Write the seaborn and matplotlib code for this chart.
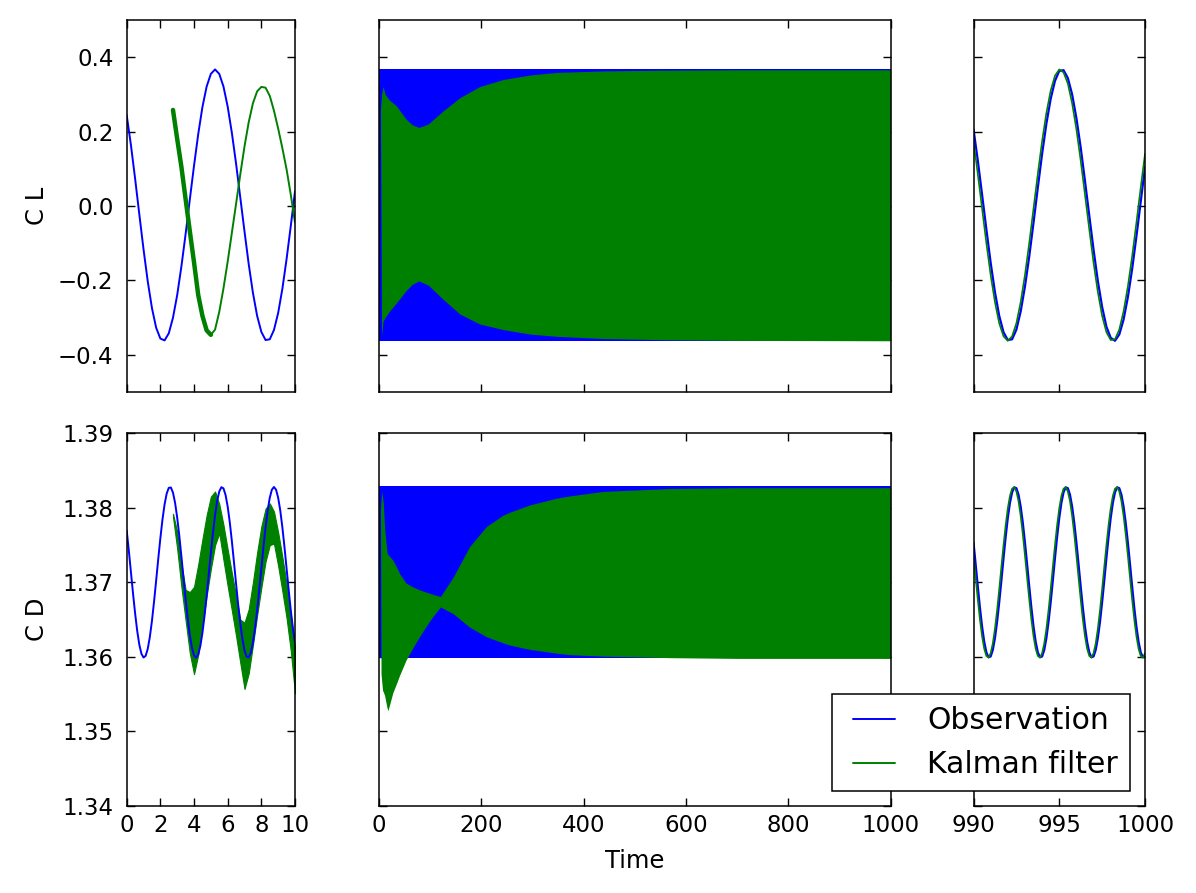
import numpy as np
import matplotlib
matplotlib.use("Agg")
import matplotlib.pyplot as plt
import seaborn as sns

# ---------------------------------------------------------------------------
# Data
# ---------------------------------------------------------------------------
# first 10 time units
t_start = np.linspace(0, 10, 41)
cl_obs_start = [0.244, 0.164, 0.073, -0.023, -0.117, -0.203, -0.275, -0.328, -0.357,
                -0.362, -0.343, -0.301, -0.240, -0.163, -0.076, 0.017, 0.108, 0.193,
                0.266, 0.321, 0.355, 0.367, 0.355, 0.321, 0.267, 0.196, 0.113, 0.022,
                -0.069, -0.157, -0.234, -0.296, -0.339, -0.361, -0.359, -0.334, -0.288,
                -0.223, -0.143, -0.054, 0.039]

t_start_fine = np.linspace(0, 10, 81)
cd_obs_start = [1.37697, 1.37429, 1.37141, 1.36853, 1.36583, 1.36348, 1.36164, 1.36043,
                1.35992, 1.36014, 1.36108, 1.36268, 1.36483, 1.36742, 1.37025, 1.37315,
                1.37593, 1.37842, 1.38046, 1.38191, 1.38268, 1.38273, 1.38204, 1.38067,
                1.37869, 1.37625, 1.37349, 1.37059, 1.36774, 1.36513, 1.36291, 1.36124,
                1.36021, 1.35990, 1.36033, 1.36146, 1.36323, 1.36553, 1.36819, 1.37106,
                1.37395, 1.37667, 1.37904, 1.38093, 1.38220, 1.38277, 1.38261, 1.38172,
                1.38017, 1.37805, 1.37550, 1.37269, 1.36978, 1.36698, 1.36446, 1.36238,
                1.36087, 1.36005, 1.35995, 1.36058, 1.36190, 1.36383, 1.36624, 1.36898,
                1.37187, 1.37473, 1.37738, 1.37963, 1.38135, 1.38243, 1.38280, 1.38243,
                1.38135, 1.37963, 1.37738, 1.37473, 1.37187, 1.36898, 1.36624, 1.36383,
                1.36190]

t_kf_start = np.linspace(2.75, 10, 30)
cl_kf_start = [0.258, 0.180, 0.105, 0.018, -0.068, -0.152, -0.240, -0.296, -0.335, -0.347,
               -0.333, -0.285, -0.222, -0.150, -0.072, 0.006, 0.085, 0.160, 0.225, 0.276,
               0.308, 0.320, 0.318, 0.296, 0.256, 0.208, 0.155, 0.098, 0.030, -0.045]
# the filter output jitters fast here, so it is kept as a band
cd_kf_start_hi = [1.3792, 1.3768, 1.3725, 1.3690, 1.3687, 1.3694, 1.3724, 1.3758, 1.3790,
                  1.3815, 1.3822, 1.3805, 1.3777, 1.3744, 1.3712, 1.3682, 1.3650, 1.3646,
                  1.3664, 1.3700, 1.3740, 1.3775, 1.3799, 1.3806, 1.3795, 1.3767, 1.3734,
                  1.3698, 1.3657, 1.3613]
cd_kf_start_lo = [1.3788, 1.3745, 1.3694, 1.3649, 1.3605, 1.3577, 1.3603, 1.3642, 1.3682,
                  1.3718, 1.3750, 1.3766, 1.3730, 1.3695, 1.3662, 1.3628, 1.3592, 1.3557,
                  1.3578, 1.3616, 1.3656, 1.3693, 1.3728, 1.3750, 1.3752, 1.3722, 1.3688,
                  1.3652, 1.3608, 1.3551]

# last 10 time units
t_end = np.linspace(990, 1000, 41)
cl_obs_end = [0.206, 0.122, 0.030, -0.063, -0.153, -0.232, -0.296, -0.340, -0.361, -0.359,
              -0.333, -0.284, -0.217, -0.136, -0.045, 0.049, 0.140, 0.221, 0.288, 0.336,
              0.363, 0.365, 0.344, 0.300, 0.236, 0.157, 0.067, -0.026, -0.118, -0.202,
              -0.272, -0.325, -0.355, -0.363, -0.346, -0.306, -0.246, -0.170, -0.082,
              0.011, 0.104]
cl_kf_end = [0.174, 0.086, -0.007, -0.100, -0.186, -0.259, -0.316, -0.351, -0.363, -0.351,
             -0.316, -0.259, -0.186, -0.100, -0.007, 0.086, 0.174, 0.250, 0.310, 0.350,
             0.367, 0.359, 0.329, 0.276, 0.206, 0.122, 0.030, -0.063, -0.153, -0.232,
             -0.296, -0.340, -0.361, -0.359, -0.333, -0.284, -0.217, -0.136, -0.045,
             0.049, 0.140]

t_end_fine = np.linspace(990, 1000, 81)
cd_obs_end = [1.37534, 1.37243, 1.36944, 1.36658, 1.36405, 1.36202, 1.36062, 1.35995,
              1.36006, 1.36094, 1.36253, 1.36472, 1.36736, 1.37027, 1.37326, 1.37612,
              1.37865, 1.38068, 1.38208, 1.38275, 1.38264, 1.38176, 1.38017, 1.37798,
              1.37534, 1.37243, 1.36944, 1.36658, 1.36405, 1.36202, 1.36062, 1.35995,
              1.36006, 1.36094, 1.36253, 1.36472, 1.36736, 1.37027, 1.37326, 1.37612,
              1.37865, 1.38068, 1.38208, 1.38275, 1.38264, 1.38176, 1.38017, 1.37798,
              1.37534, 1.37243, 1.36944, 1.36658, 1.36405, 1.36202, 1.36062, 1.35995,
              1.36006, 1.36094, 1.36253, 1.36472, 1.36736, 1.37027, 1.37326, 1.37612,
              1.37865, 1.38068, 1.38208, 1.38275, 1.38264, 1.38176, 1.38017, 1.37798,
              1.37534, 1.37243, 1.36944, 1.36658, 1.36405, 1.36202, 1.36062, 1.35995,
              1.36006]
cd_kf_end = [1.37361, 1.37063, 1.36770, 1.36501, 1.36276, 1.36109, 1.36013, 1.35992,
             1.36050, 1.36181, 1.36378, 1.36626, 1.36909, 1.37207, 1.37500, 1.37769,
             1.37994, 1.38161, 1.38257, 1.38278, 1.38220, 1.38089, 1.37892, 1.37644,
             1.37361, 1.37063, 1.36770, 1.36501, 1.36276, 1.36109, 1.36013, 1.35992,
             1.36050, 1.36181, 1.36378, 1.36626, 1.36909, 1.37207, 1.37500, 1.37769,
             1.37994, 1.38161, 1.38257, 1.38278, 1.38220, 1.38089, 1.37892, 1.37644,
             1.37361, 1.37063, 1.36770, 1.36501, 1.36276, 1.36109, 1.36013, 1.35992,
             1.36050, 1.36181, 1.36378, 1.36626, 1.36909, 1.37207, 1.37500, 1.37769,
             1.37994, 1.38161, 1.38257, 1.38278, 1.38220, 1.38089, 1.37892, 1.37644,
             1.37361, 1.37063, 1.36770, 1.36501, 1.36276, 1.36109, 1.36013, 1.35992,
             1.36050]

# whole run: the oscillation is far too dense to resolve, so keep the envelopes
t_run = [0, 1000]
cl_obs_run_hi = [0.367, 0.367]
cl_obs_run_lo = [-0.363, -0.363]
cd_obs_run_hi = [1.3829, 1.3829]
cd_obs_run_lo = [1.3598, 1.3598]

t_cl_env = [2.8, 5, 8, 12, 20, 34, 53, 65, 78, 96, 125, 158, 197, 243, 295, 347, 438,
            550, 700, 1000]
cl_kf_hi = [0.26, 0.30, 0.321, 0.300, 0.285, 0.269, 0.233, 0.218, 0.211, 0.220, 0.255,
            0.291, 0.321, 0.340, 0.352, 0.359, 0.363, 0.365, 0.366, 0.366]
cl_kf_lo = [0.26, -0.350, -0.310, -0.300, -0.284, -0.261, -0.228, -0.211, -0.202, -0.213,
            -0.251, -0.291, -0.318, -0.333, -0.345, -0.351, -0.357, -0.360, -0.362, -0.363]

t_cd_env = [2.8, 4, 5.2, 7, 8.5, 11, 15.6, 17.6, 27, 34, 40, 53, 66, 79, 92, 105, 120,
            145, 177, 210, 242, 255, 295, 307, 347, 373, 438, 568, 700, 1000]
cd_kf_hi = [1.3795, 1.3810, 1.3822, 1.3814, 1.3806, 1.3772, 1.3740, 1.3737, 1.3730,
            1.3721, 1.3712, 1.3699, 1.3694, 1.3690, 1.3687, 1.3684, 1.3681, 1.3707,
            1.3748, 1.3775, 1.3790, 1.3794, 1.3804, 1.3806, 1.3813, 1.3816, 1.3822,
            1.3826, 1.3827, 1.3827]
cd_kf_lo = [1.3795, 1.3577, 1.3568, 1.3555, 1.3553, 1.3548, 1.3532, 1.3528, 1.3552,
            1.3564, 1.3575, 1.3596, 1.3612, 1.3627, 1.3641, 1.3654, 1.3667, 1.3658,
            1.3640, 1.3627, 1.3619, 1.3616, 1.3610, 1.3609, 1.3605, 1.3603, 1.3601,
            1.3599, 1.3598, 1.3598]

OBS_COLOR = '#0000ff'
KF_COLOR = '#008000'

# ---------------------------------------------------------------------------
# Figure
# ---------------------------------------------------------------------------
sns.set_theme(style='ticks')
plt.rcParams['font.family'] = ['DejaVu Sans']
plt.rcParams.update({
    'axes.linewidth': 1.1,
    'text.color': 'black',
    'axes.labelcolor': 'black',
    'xtick.color': 'black',
    'ytick.color': 'black',
    'axes.edgecolor': 'black',
})

W, H = 1196, 893
fig = plt.figure(figsize=(W / 100, H / 100), dpi=100, facecolor='white')


def _axes(x0, x1, y0, y1):
    """Axes from pixel edges (left, right, top, bottom)."""
    return fig.add_axes([x0 / W, 1 - y1 / H, (x1 - x0) / W, (y1 - y0) / H])


cols = [(126.7, 295.0), (379.0, 890.7), (973.5, 1145.0)]
rows = [(20.0, 391.7), (433.3, 806.0)]
axes = [[_axes(c[0], c[1], r[0], r[1]) for c in cols] for r in rows]

for row in axes:
    for ax in row:
        ax.set_facecolor('white')
        ax.tick_params(which='major', direction='in', top=True, right=True,
                       length=6, width=1.0, labelsize=16.5, color='black')
        ax.tick_params(axis='y', pad=9.5)
        ax.tick_params(axis='x', pad=5.5)

(ax_cl0, ax_clm, ax_cl1), (ax_cd0, ax_cdm, ax_cd1) = axes

# --- left: start of run
sns.lineplot(x=t_start, y=cl_obs_start, ax=ax_cl0, color=OBS_COLOR, linewidth=1.4,
             estimator=None, sort=False)
sns.lineplot(x=t_kf_start, y=cl_kf_start, ax=ax_cl0, color=KF_COLOR, linewidth=1.4,
             estimator=None, sort=False)
sns.lineplot(x=t_kf_start[:10], y=cl_kf_start[:10], ax=ax_cl0, color=KF_COLOR,
             linewidth=3.2, estimator=None, sort=False)

sns.lineplot(x=t_start_fine, y=cd_obs_start, ax=ax_cd0, color=OBS_COLOR, linewidth=1.4,
             estimator=None, sort=False)
ax_cd0.fill_between(t_kf_start, cd_kf_start_lo, cd_kf_start_hi, color=KF_COLOR,
                    linewidth=0.8, edgecolor=KF_COLOR)

# --- middle: whole run
ax_clm.fill_between(t_run, cl_obs_run_lo, cl_obs_run_hi, color=OBS_COLOR, linewidth=0)
ax_clm.fill_between(t_cl_env, cl_kf_lo, cl_kf_hi, color=KF_COLOR, linewidth=0)
ax_cdm.fill_between(t_run, cd_obs_run_lo, cd_obs_run_hi, color=OBS_COLOR, linewidth=0)
ax_cdm.fill_between(t_cd_env, cd_kf_lo, cd_kf_hi, color=KF_COLOR, linewidth=0)

# --- right: end of run
sns.lineplot(x=t_end, y=cl_obs_end, ax=ax_cl1, color=OBS_COLOR, linewidth=1.6,
             estimator=None, sort=False)
sns.lineplot(x=t_end, y=cl_kf_end, ax=ax_cl1, color=KF_COLOR, linewidth=1.2,
             estimator=None, sort=False)
sns.lineplot(x=t_end_fine, y=cd_obs_end, ax=ax_cd1, color=OBS_COLOR, linewidth=1.6,
             estimator=None, sort=False, label='Observation')
sns.lineplot(x=t_end_fine, y=cd_kf_end, ax=ax_cd1, color=KF_COLOR, linewidth=1.2,
             estimator=None, sort=False, label='Kalman filter')

# --- limits, ticks
for ax in axes[0]:
    ax.set_ylim(-0.5, 0.5)
    ax.set_yticks([-0.4, -0.2, 0.0, 0.2, 0.4])
for ax in axes[1]:
    ax.set_ylim(1.34, 1.39)
    ax.set_yticks([1.34, 1.35, 1.36, 1.37, 1.38, 1.39])

for r in range(2):
    axes[r][0].set_xlim(0, 10)
    axes[r][0].set_xticks([0, 2, 4, 6, 8, 10])
    axes[r][1].set_xlim(0, 1000)
    axes[r][1].set_xticks([0, 200, 400, 600, 800, 1000])
    axes[r][2].set_xlim(990, 1000)
    axes[r][2].set_xticks([990, 995, 1000])
    axes[r][1].tick_params(labelleft=False)
    axes[r][2].tick_params(labelleft=False)
for ax in axes[0]:
    ax.tick_params(labelbottom=False)

ax_cl0.set_ylabel('C L', fontsize=17.5)
ax_cl0.yaxis.set_label_coords(-0.46, 0.5)
ax_cd0.set_ylabel('C D', fontsize=17.5)
ax_cd0.yaxis.set_label_coords(-0.46, 0.5)
ax_cdm.set_xlabel('Time', fontsize=17.5, labelpad=9)

leg = ax_cd1.legend(loc='lower right', fontsize=21.5, fancybox=False, framealpha=1,
                    edgecolor='black', borderpad=0.4, labelspacing=0.5, numpoints=2,
                    handlelength=2.0, handletextpad=0.8, borderaxespad=0.5)
leg.get_frame().set_linewidth(1.1)
for line in leg.get_lines():
    line.set_linewidth(1.4)

fig.savefig('out.png', dpi=100, facecolor='white')
